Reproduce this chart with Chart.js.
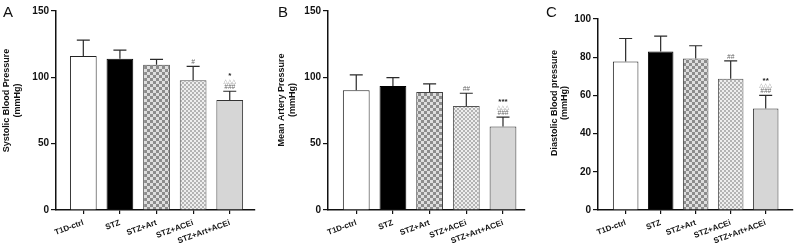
<!DOCTYPE html>
<html><head><meta charset="utf-8">
<script src="https://cdn.jsdelivr.net/npm/chart.js@4.4.0/dist/chart.umd.min.js"></script>
<style>
body{margin:0;background:#fff;width:794px;height:248px;overflow:hidden;position:relative;font-family:'Liberation Sans',Arial,sans-serif}
canvas{position:absolute;top:0}
.lbl{position:absolute;top:4px;font-size:15px;line-height:1;color:#111}
</style></head><body>
<canvas id="cA" width="265" height="248" style="left:0"></canvas>
<canvas id="cB" width="265" height="248" style="left:265px"></canvas>
<canvas id="cC" width="264" height="248" style="left:530px"></canvas>
<div class="lbl" style="left:3px">A</div>
<div class="lbl" style="left:278px">B</div>
<div class="lbl" style="left:546px">C</div>
<script>
// ---- data ----
const categories = ['T1D-ctrl', 'STZ', 'STZ+Art', 'STZ+ACEi', 'STZ+Art+ACEi'];

const systolicMean = [116, 114, 109.5, 97.8, 83];
const systolicSD   = [12, 6.5, 4, 10.5, 6.5];
const systolicSig  = [[], [], [], ['#'], ['*', '△△△', '###']];

const meanArtMean  = [90.3, 93.5, 89, 78.3, 63];
const meanArtSD    = [11.5, 6.3, 6, 9.7, 7];
const meanArtSig   = [[], [], [], ['##'], ['***', '△△△', '###']];

const diastMean    = [77.8, 83, 79.3, 68.7, 53.1];
const diastSD      = [12, 8, 6.7, 9.4, 6.9];
const diastSig     = [[], [], [], ['##'], ['**', '△△△', '###']];

const ticksA = [0, 50, 100, 150];
const ticksB = [0, 50, 100, 150];
const ticksC = [0, 20, 40, 60, 80, 100];

const titleA = ['Systolic Blood Pressure', '(mmHg)'];
const titleB = ['Mean Artery Pressure', '(mmHg)'];
const titleC = ['Diastolic Blood pressure', '(mmHg)'];

// ---- styles ----
function checker(cell, c1, c2) {
  const c = document.createElement('canvas');
  c.width = c.height = cell * 2;
  const g = c.getContext('2d');
  g.fillStyle = c1; g.fillRect(0, 0, cell * 2, cell * 2);
  g.fillStyle = c2; g.fillRect(0, 0, cell, cell); g.fillRect(cell, cell, cell, cell);
  return g.createPattern(c, 'repeat');
}
const fills = ['#ffffff', '#000000', checker(3, '#dedede', '#8c8c8c'), checker(2, '#eeeeee', '#b4b4b4'), '#d6d6d6'];
const borders = ['#222', '#000', '#444', '#555', '#333'];
const FONT = "'Liberation Sans', Arial, sans-serif";

function panelPlugin(sd, sig, title, tx1, tx2, ty) {
  return {
    id: 'extras',
    afterDatasetsDraw(chart) {
      const ctx = chart.ctx, ys = chart.scales.y;
      const meta = chart.getDatasetMeta(0);
      const vals = chart.data.datasets[0].data;
      ctx.save();
      meta.data.forEach((bar, i) => {
        const top = ys.getPixelForValue(vals[i].y + sd[i]);
        ctx.strokeStyle = '#2a2a2a'; ctx.lineWidth = 1.2;
        ctx.beginPath();
        ctx.moveTo(bar.x, bar.y); ctx.lineTo(bar.x, top);
        ctx.moveTo(bar.x - 6.5, top); ctx.lineTo(bar.x + 6.5, top);
        ctx.stroke();
        const lines = sig[i];
        ctx.textAlign = 'center'; ctx.textBaseline = 'bottom';
        for (let k = lines.length - 1; k >= 0; k--) {
          const t = lines[k];
          const yy = top - 0.5 - (lines.length - 1 - k) * 6.5;
          if (t[0] === '*') { ctx.fillStyle = '#222'; ctx.font = "bold 8px " + FONT; ctx.fillText(t, bar.x, yy + 2.5); }
          else if (t[0] === '△') { ctx.fillStyle = '#888'; ctx.font = "5.5px 'DejaVu Sans'"; ctx.fillText(t, bar.x, yy); }
          else { ctx.fillStyle = '#666'; ctx.font = "italic 6.5px " + FONT; ctx.fillText(t, bar.x, yy); }
        }
      });
      // y axis title
      ctx.fillStyle = '#111';
      ctx.font = "bold 9px " + FONT;
      ctx.textAlign = 'center'; ctx.textBaseline = 'middle';
      [tx1, tx2].forEach((x, k) => {
        ctx.save(); ctx.translate(x, ty); ctx.rotate(-Math.PI / 2);
        ctx.fillText(title[k], 0, 0); ctx.restore();
      });
      ctx.restore();
    }
  };
}

function makePanel(id, p) {
  const data = p.values.map((v, i) => ({ x: i, y: v }));
  new Chart(document.getElementById(id), {
    type: 'bar',
    data: { datasets: [{ data, backgroundColor: fills, borderColor: borders, borderWidth: 1,
      barPercentage: 0.73, categoryPercentage: 1, borderSkipped: 'start' }] },
    options: {
      responsive: false, animation: false, events: [],
      layout: { padding: { top: p.top, right: p.right, left: 0, bottom: 0 } },
      plugins: { legend: { display: false }, tooltip: { enabled: false } },
      scales: {
        x: {
          type: 'linear', min: p.xmin, max: p.xmax, offset: false, bounds: 'data',
          afterBuildTicks: s => { s.ticks = categories.map((c, i) => ({ value: i })); },
          afterFit: s => { s.height = 248 - p.bottom; s.paddingLeft = 0; s.paddingRight = 0; },
          ticks: { callback: v => categories[v], minRotation: 20, maxRotation: 20, autoSkip: false,
            font: { size: 8, weight: 'bold', family: FONT }, color: '#111', padding: 4 },
          grid: { offset: false, drawOnChartArea: false, drawTicks: true, tickLength: 4, color: '#111', lineWidth: 1.2 },
          border: { display: true, color: '#111', width: 1.5 }
        },
        y: {
          min: 0, max: p.ticks[p.ticks.length - 1],
          afterBuildTicks: s => { s.ticks = p.ticks.map(v => ({ value: v })); },
          afterFit: s => { s.width = p.left; s.paddingTop = 0; s.paddingBottom = 0; },
          ticks: { font: { size: 10, weight: 'bold', family: FONT }, color: '#111', padding: 2 },
          grid: { drawOnChartArea: false, drawTicks: true, tickLength: 5, color: '#111', lineWidth: 1.2 },
          border: { display: true, color: '#111', width: 1.5 }
        }
      }
    },
    plugins: [panelPlugin(p.sd, p.sig, p.title, p.tx1, p.tx2, p.ty)]
  });
}

makePanel('cA', { values: systolicMean, sd: systolicSD, sig: systolicSig, ticks: ticksA, title: titleA,
  left: 56, right: 10, top: 11, bottom: 210, xmin: -0.746, xmax: 4.69, tx1: 6.5, tx2: 17.5, ty: 100.5 });
makePanel('cB', { values: meanArtMean, sd: meanArtSD, sig: meanArtSig, ticks: ticksB, title: titleB,
  left: 63, right: 5, top: 11, bottom: 210, xmin: -0.77, xmax: 4.60, tx1: 17, tx2: 28, ty: 100 });
makePanel('cC', { values: diastMean, sd: diastSD, sig: diastSig, ticks: ticksC, title: titleC,
  left: 68, right: 1, top: 19, bottom: 210, xmin: -0.79, xmax: 4.78, tx1: 24.5, tx2: 35, ty: 103 });
</script>
</body></html>
